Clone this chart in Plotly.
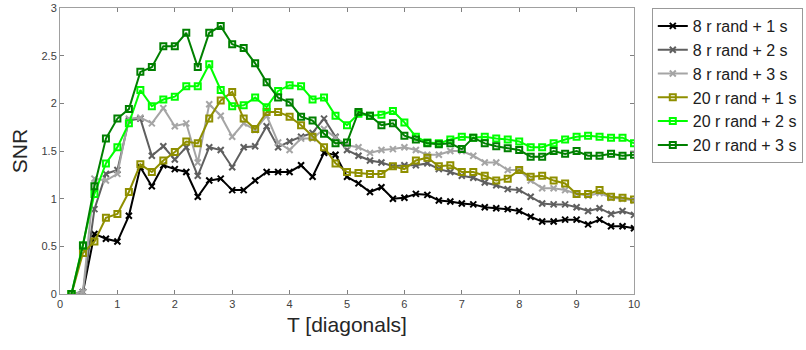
import plotly.graph_objects as go

# Diagonal count T (0.2 .. 10 in steps of 0.2)
T = [round(0.2 * i, 1) for i in range(1, 51)]

snr_8r_1s = [0.00, 0.02, 0.63, 0.58, 0.55, 0.82, 1.33, 1.13, 1.35, 1.31,
             1.28, 1.02, 1.19, 1.21, 1.09, 1.09, 1.19, 1.28, 1.28, 1.28,
             1.35, 1.23, 1.48, 1.46, 1.23, 1.16, 1.07, 1.12, 1.00, 1.01,
             1.05, 1.04, 0.98, 0.97, 0.95, 0.94, 0.91, 0.90, 0.89, 0.87,
             0.81, 0.76, 0.76, 0.78, 0.78, 0.73, 0.78, 0.71, 0.71, 0.69]

snr_8r_2s = [0.00, 0.02, 0.89, 1.26, 1.30, 1.82, 1.84, 1.45, 1.55, 1.41,
             1.54, 1.24, 1.54, 1.51, 1.33, 1.54, 1.55, 1.76, 1.54, 1.60,
             1.65, 1.69, 1.84, 1.65, 1.51, 1.45, 1.40, 1.38, 1.34, 1.35,
             1.35, 1.37, 1.31, 1.28, 1.24, 1.22, 1.17, 1.14, 1.10, 1.09,
             1.02, 0.95, 0.94, 0.94, 0.91, 0.87, 0.90, 0.84, 0.87, 0.83]

snr_8r_3s = [0.00, 0.02, 1.21, 1.19, 1.26, 1.84, 1.85, 1.79, 1.95, 1.76,
             1.79, 1.38, 1.99, 1.87, 1.65, 1.79, 1.72, 1.87, 1.59, 1.51,
             1.63, 1.63, 1.73, 1.64, 1.56, 1.54, 1.48, 1.51, 1.52, 1.54,
             1.51, 1.46, 1.46, 1.50, 1.50, 1.45, 1.38, 1.38, 1.30, 1.30,
             1.19, 1.11, 1.11, 1.09, 1.05, 1.03, 1.06, 1.01, 1.00, 0.98]

snr_20r_1s = [0.00, 0.43, 0.55, 0.80, 0.84, 1.07, 1.36, 1.28, 1.40, 1.49,
              1.60, 1.58, 1.84, 2.03, 2.12, 1.84, 1.73, 1.91, 1.91, 1.86,
              1.77, 1.65, 1.54, 1.37, 1.28, 1.27, 1.26, 1.26, 1.34, 1.31,
              1.40, 1.43, 1.34, 1.35, 1.28, 1.28, 1.24, 1.19, 1.21, 1.30,
              1.23, 1.24, 1.19, 1.16, 1.05, 1.05, 1.09, 1.02, 1.01, 0.99]

snr_20r_2s = [0.00, 0.51, 1.05, 1.37, 1.54, 1.79, 2.14, 1.97, 2.04, 2.07,
              2.18, 2.18, 2.41, 2.14, 1.97, 1.98, 2.06, 1.96, 2.13, 2.19,
              2.18, 2.04, 2.06, 1.87, 1.77, 1.89, 1.87, 1.88, 1.92, 1.80,
              1.65, 1.59, 1.58, 1.62, 1.65, 1.64, 1.65, 1.63, 1.62, 1.60,
              1.54, 1.54, 1.58, 1.62, 1.65, 1.66, 1.65, 1.64, 1.64, 1.58]

snr_20r_3s = [0.00, 0.51, 1.13, 1.63, 1.84, 1.94, 2.33, 2.38, 2.60, 2.60,
              2.74, 2.38, 2.74, 2.81, 2.62, 2.58, 2.42, 2.22, 2.06, 2.01,
              1.86, 1.82, 1.68, 1.58, 1.59, 1.91, 1.87, 1.77, 1.79, 1.66,
              1.62, 1.58, 1.57, 1.58, 1.52, 1.64, 1.58, 1.55, 1.53, 1.51,
              1.44, 1.44, 1.50, 1.47, 1.50, 1.45, 1.45, 1.47, 1.45, 1.46]

series = [
    ("8 r rand + 1 s", snr_8r_1s, "#000000", "x-thin-open"),
    ("8 r rand + 2 s", snr_8r_2s, "#5f5f5f", "x-thin-open"),
    ("8 r rand + 3 s", snr_8r_3s, "#a5a5a5", "x-thin-open"),
    ("20 r rand + 1 s", snr_20r_1s, "#8f8f00", "square-open"),
    ("20 r rand + 2 s", snr_20r_2s, "#00ff00", "square-open"),
    ("20 r rand + 3 s", snr_20r_3s, "#008000", "square-open"),
]

fig = go.Figure()
for name, vals, color, sym in series:
    fig.add_trace(go.Scatter(
        x=T, y=vals, name=name, mode="lines+markers",
        line=dict(color=color, width=2),
        marker=dict(symbol=sym, size=6, color=color,
                    line=dict(color=color, width=2)),
    ))

axis_common = dict(
    showline=True, linecolor="#a0a0a0", linewidth=1, mirror="allticks",
    ticks="inside", ticklen=4, tickcolor="#808080",
    showgrid=False, zeroline=False,
    tickfont=dict(family="Liberation Sans, Arial", size=11, color="#404040"),
)

fig.update_layout(
    width=806, height=350,
    margin=dict(l=60, r=172, t=8, b=56, autoexpand=False),
    paper_bgcolor="white", plot_bgcolor="white",
    font=dict(family="Liberation Sans, Arial", color="#262626"),
    xaxis=dict(range=[0, 10], tickmode="linear", tick0=0, dtick=1,
               title=dict(text="T [diagonals]", font=dict(size=21),
                          standoff=8),
               **axis_common),
    yaxis=dict(range=[0, 3], tickmode="linear", tick0=0, dtick=0.5,
               title=dict(text="SNR", font=dict(size=21), standoff=8),
               **axis_common),
    legend=dict(x=1.031, xanchor="left", y=1.0, yanchor="top",
                bordercolor="#999999", borderwidth=1,
                font=dict(size=16, color="#202020"),
                tracegroupgap=0, itemwidth=30),
    showlegend=True,
)

fig.write_html("out.html")
